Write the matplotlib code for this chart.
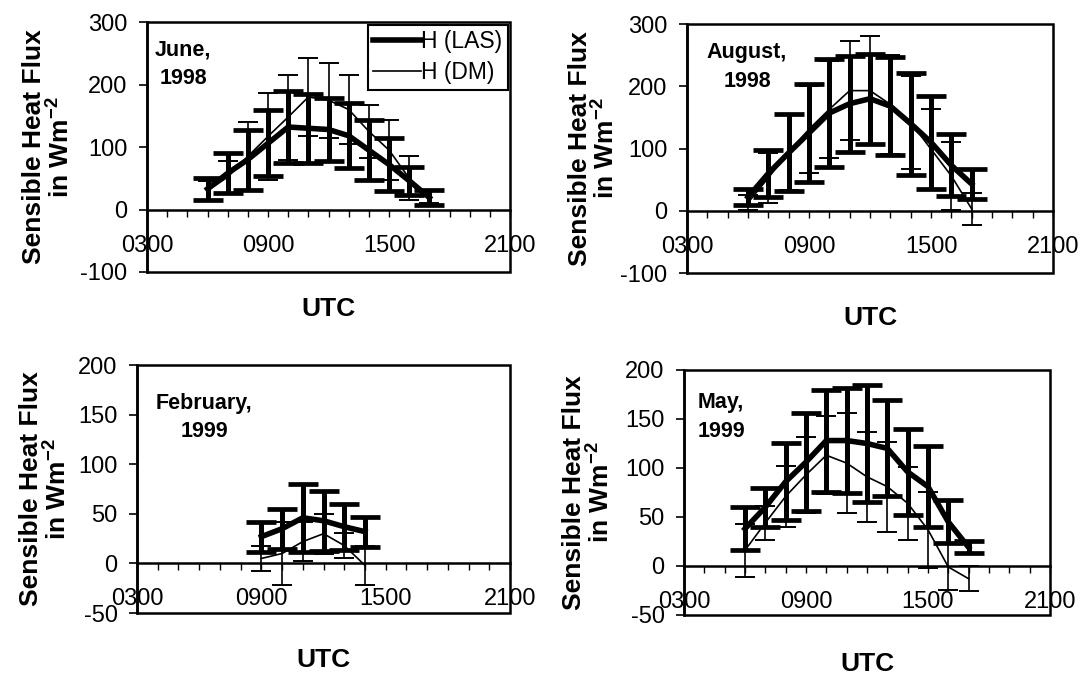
import matplotlib.pyplot as plt
from matplotlib.patches import Rectangle
from matplotlib.lines import Line2D

plt.rcParams['font.family'] = ['Liberation Sans', 'DejaVu Sans']
plt.rcParams['axes.unicode_minus'] = False
plt.rcParams['mathtext.fontset'] = 'custom'
plt.rcParams['mathtext.rm'] = 'Liberation Sans:bold'
plt.rcParams['mathtext.bf'] = 'Liberation Sans:bold'
plt.rcParams['mathtext.default'] = 'bf'

# hours (UTC) of the hourly means
hours_day = [6, 7, 8, 9, 10, 11, 12, 13, 14, 15, 16, 17]
hours_feb = [9, 10, 11, 12, 13, 14]

# June 1998
jun_las = [33, 58, 80, 106, 132, 130, 128, 118, 95, 72, 46, 19]
jun_las_sd = [18, 32, 48, 53, 57, 55, 50, 52, 48, 42, 22, 12]
jun_dm = [30, 52, 85, 117, 148, 180, 175, 160, 125, 95, 50, 20]
jun_dm_sd = [15, 25, 55, 70, 68, 62, 60, 55, 42, 48, 35, 10]

# August 1998
aug_las = [22, 60, 93, 125, 157, 172, 180, 168, 140, 110, 73, 43]
aug_las_sd = [13, 38, 62, 78, 86, 77, 72, 79, 82, 75, 50, 24]
aug_dm = [13, 53, 94, 131, 163, 193, 193, 171, 142, 99, 56, 3]
aug_dm_sd = [12, 40, 60, 70, 78, 80, 88, 80, 75, 65, 55, 26]

# February 1999
feb_las = [27, 35, 46, 43, 37, 32]
feb_las_sd = [15, 20, 34, 30, 23, 15]
feb_dm = [5, 10, 22, 30, 18, -2]
feb_dm_sd = [13, 32, 20, 20, 13, 20]

# May 1999
may_las = [38, 60, 86, 106, 128, 128, 125, 120, 96, 81, 45, 19]
may_las_sd = [22, 20, 39, 50, 52, 54, 60, 49, 44, 41, 22, 6]
may_dm = [16, 44, 71, 93, 113, 105, 91, 81, 64, 37, -1, -13]
may_dm_sd = [27, 17, 31, 39, 40, 51, 46, 46, 37, 39, 23, 13]

xtick_labels = {3: '0300', 9: '0900', 15: '1500', 21: '2100'}

fig = plt.figure(figsize=(10.85, 6.8), dpi=100)

panels = [
    # rect, hours, las, las_sd, dm, dm_sd, ylim, yticks, title, title pos, utc y, ylabel x
    ([0.1355, 0.600, 0.3346, 0.3676], hours_day, jun_las, jun_las_sd, jun_dm, jun_dm_sd,
     (-100, 300), range(-100, 301, 100), 'June,\n1998', (0.099, 0.832), -0.15, -0.20),
    ([0.6332, 0.5985, 0.3373, 0.3662], hours_day, aug_las, aug_las_sd, aug_dm, aug_dm_sd,
     (-100, 300), range(-100, 301, 100), 'August,\n1998', (0.164, 0.827), -0.18, -0.183),
    ([0.1263, 0.0985, 0.3438, 0.3647], hours_feb, feb_las, feb_las_sd, feb_dm, feb_dm_sd,
     (-50, 200), range(-50, 201, 50), 'February,\n1999', (0.18, 0.79), -0.19, -0.175),
    ([0.6304, 0.0956, 0.3373, 0.3603], hours_day, may_las, may_las_sd, may_dm, may_dm_sd,
     (-50, 200), range(-50, 201, 50), 'May,\n1999', (0.101, 0.808), -0.20, -0.19),
]

for i, (rect, hrs, las, las_sd, dm, dm_sd, ylim, yticks, title, tpos, utc_y, ylab_x) in enumerate(panels):
    ax = fig.add_axes(rect)

    ax.errorbar(hrs, las, yerr=las_sd, color='black', lw=4, elinewidth=3.6,
                capsize=10.5, capthick=3.4, zorder=3)
    ax.errorbar(hrs, dm, yerr=dm_sd, color='black', lw=1.2, elinewidth=1.2,
                capsize=7, capthick=1.4, zorder=4)

    ax.set_xlim(3, 21)
    ax.set_ylim(*ylim)

    # x axis sits on the zero line, the plot area keeps its own frame
    ax.spines['bottom'].set_position(('data', 0))
    ax.spines['bottom'].set_linewidth(1.8)
    for s in ['top', 'right']:
        ax.spines[s].set_visible(False)
    ax.spines['left'].set_linewidth(1.8)
    ax.add_patch(Rectangle((0, 0), 1, 1, transform=ax.transAxes, fill=False,
                           lw=1.8, edgecolor='black', zorder=5, clip_on=False))

    ax.set_xticks(range(3, 22))
    ax.set_xticklabels([xtick_labels.get(h, '') for h in range(3, 22)])
    ax.tick_params(axis='x', direction='out', length=5, width=1, pad=13, labelsize=17)
    ax.set_yticks(list(yticks))
    ax.tick_params(axis='y', direction='out', length=6, width=1.2, pad=8, labelsize=17)

    ax.set_ylabel('Sensible Heat Flux\nin Wm$^{-2}$', fontsize=19,
                  fontweight='bold', linespacing=1.05)
    ax.yaxis.set_label_coords(ylab_x, 0.5)
    ax.text(0.5, utc_y, 'UTC', transform=ax.transAxes, ha='center', va='center',
            fontsize=19, fontweight='bold')

    ax.text(tpos[0], tpos[1], title, transform=ax.transAxes, ha='center', va='center',
            fontsize=15.5, fontweight='bold', linespacing=1.45)

    if i == 0:
        handles = [Line2D([], [], color='black', lw=4),
                   Line2D([], [], color='black', lw=1.2)]
        leg = ax.legend(handles, ['H (LAS)', 'H (DM)'], loc='upper right',
                        bbox_to_anchor=(0.995, 0.99), fontsize=16.5,
                        frameon=True, fancybox=False, framealpha=1, edgecolor='black',
                        borderaxespad=0, handlelength=2.1, handletextpad=0.0,
                        borderpad=0.25, labelspacing=0.35)
        leg.get_frame().set_linewidth(1.5)

fig.savefig('out.png', dpi=100)
